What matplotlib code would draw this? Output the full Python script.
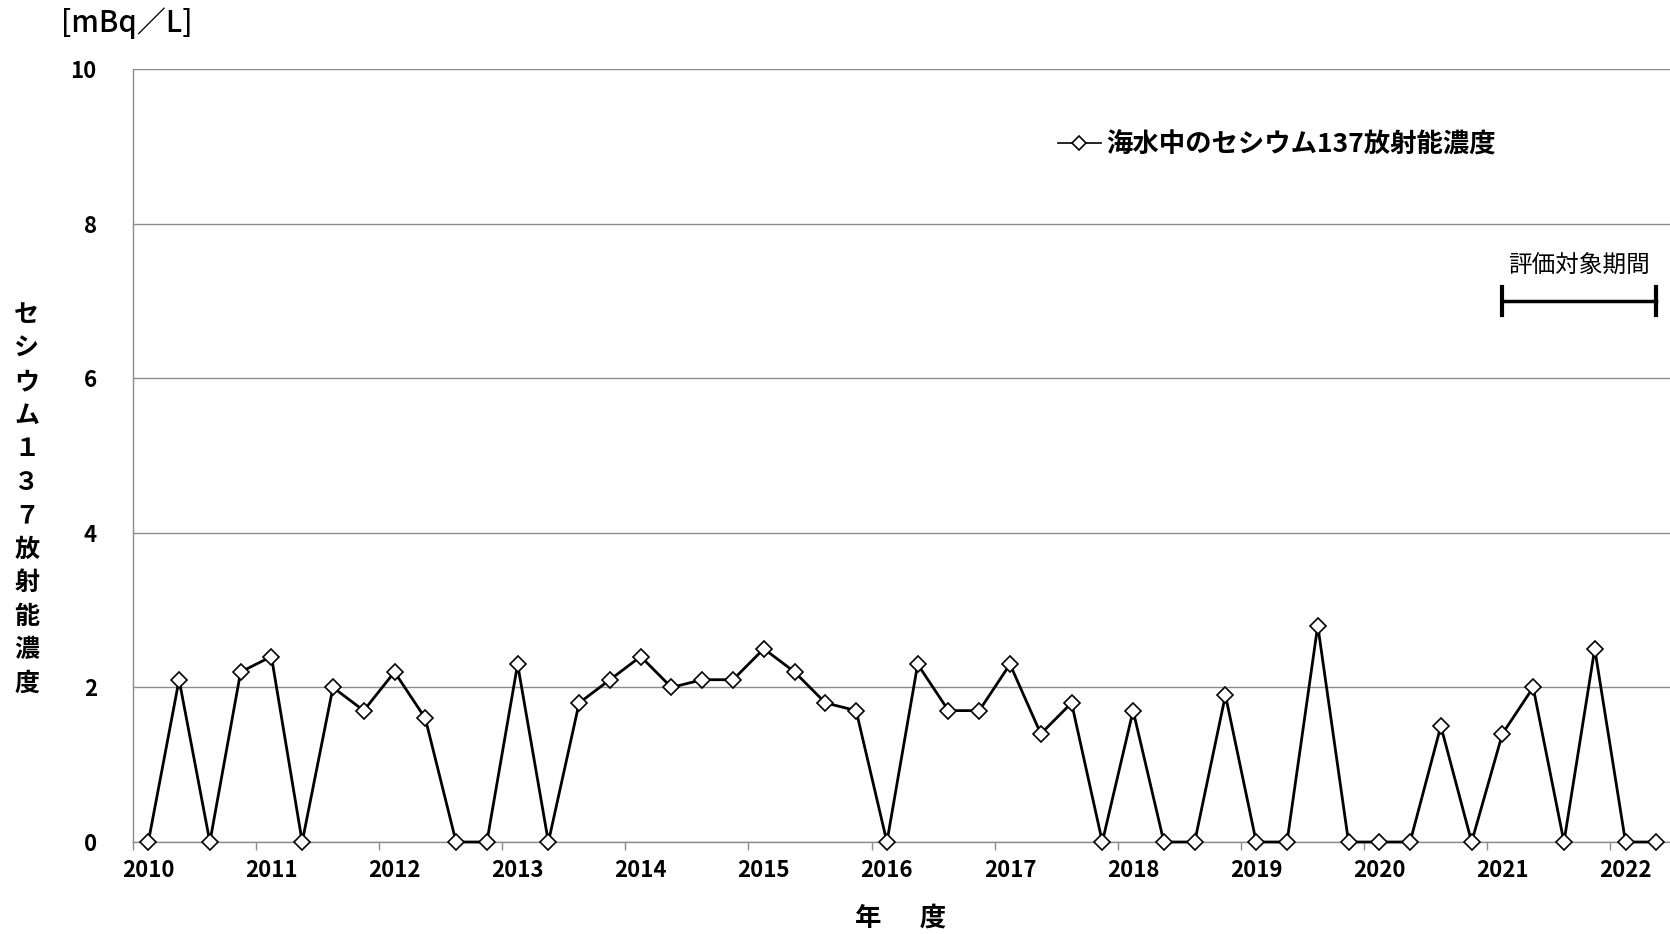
import numpy as np
import matplotlib
matplotlib.use("Agg")
import matplotlib.pyplot as plt

plt.rcParams['font.family'] = ['Noto Sans CJK JP', 'DejaVu Sans']

# quarterly Cs-137 concentration in sea water, 2010 Q1 .. 2022 Q2 [mBq/L]
values = [0, 2.1, 0, 2.2,
          2.4, 0, 2.0, 1.7,
          2.2, 1.6, 0, 0,
          2.3, 0, 1.8, 2.1,
          2.4, 2.0, 2.1, 2.1,
          2.5, 2.2, 1.8, 1.7,
          0, 2.3, 1.7, 1.7,
          2.3, 1.4, 1.8, 0,
          1.7, 0, 0, 1.9,
          0, 0, 2.8, 0,
          0, 0, 1.5, 0,
          1.4, 2.0, 0, 2.5,
          0, 0]
years = ['2010', '2011', '2012', '2013', '2014', '2015', '2016',
         '2017', '2018', '2019', '2020', '2021', '2022']
y_ticks = [0, 2, 4, 6, 8, 10]
series_name = '海水中のセシウム137放射能濃度'
ylabel = 'セシウム１３７放射能濃度'
unit = '[mBq／L]'
xlabel = '年　  度'
eval_label = '評価対象期間'
eval_start = 44   # 2021 Q1
eval_end = 49     # 2022 Q2
eval_level = 7.0

gray = '#8c8c8c'
x = np.arange(len(values))

fig = plt.figure(figsize=(16.7, 9.34), dpi=100)
ax = fig.add_axes([0.0796, 0.0985, 0.9214, 0.8275])

ax.plot(x, values, color='black', lw=2, marker='D', markersize=8,
        markerfacecolor='white', markeredgecolor='black', markeredgewidth=1.2,
        label=series_name, zorder=3, clip_on=False)

ax.set_xlim(-0.5, len(values) - 0.5)
ax.set_ylim(0, 10)

# year boundaries as tick marks, year names under the first quarter
ax.set_xticks(np.arange(len(years)) * 4 - 0.5)
ax.set_xticklabels([])
ax.set_xticks(np.arange(len(years)) * 4, minor=True)
ax.set_xticklabels(years, minor=True, fontsize=16, fontweight='bold')
ax.tick_params(axis='x', which='major', direction='out', length=6, color=gray, width=1)
ax.tick_params(axis='x', which='minor', length=0, pad=12)

ax.set_yticks(y_ticks)
ax.set_yticklabels([str(v) for v in y_ticks], fontsize=16, fontweight='bold')
ax.tick_params(axis='y', length=0, pad=26)

ax.grid(axis='y', color=gray, lw=1)
ax.set_axisbelow(True)
for s in ['top', 'right']:
    ax.spines[s].set_visible(False)
for s in ['left', 'bottom']:
    ax.spines[s].set_color(gray)
    ax.spines[s].set_linewidth(1)

leg = ax.legend(loc='upper left', bbox_to_anchor=(0.586, 0.95), frameon=False,
                handlelength=1.6, handletextpad=0.2, prop={'size': 19, 'weight': 'bold'})
for h in leg.legend_handles:
    h.set_linewidth(1.2)
    h.set_markersize(7)

# evaluation period bracket
ax.plot([eval_start, eval_end], [eval_level, eval_level], color='black', lw=2.5)
ax.plot([eval_start, eval_start], [eval_level - 0.18, eval_level + 0.18], color='black', lw=3)
ax.plot([eval_end, eval_end], [eval_level - 0.18, eval_level + 0.18], color='black', lw=3)
ax.text((eval_start + eval_end) / 2, eval_level + 0.3, eval_label, ha='center', va='bottom',
        fontsize=17)

fig.text(0.076, 0.975, unit, ha='center', va='center', fontsize=21, fontweight='medium')
fig.text(0.016, 0.465, '\n'.join(ylabel), ha='center', va='center', fontsize=18,
         fontweight='bold', linespacing=1.5)
fig.text(0.539, 0.017, xlabel, ha='center', va='center', fontsize=19, fontweight='bold')

fig.savefig('out.png', dpi=100)
